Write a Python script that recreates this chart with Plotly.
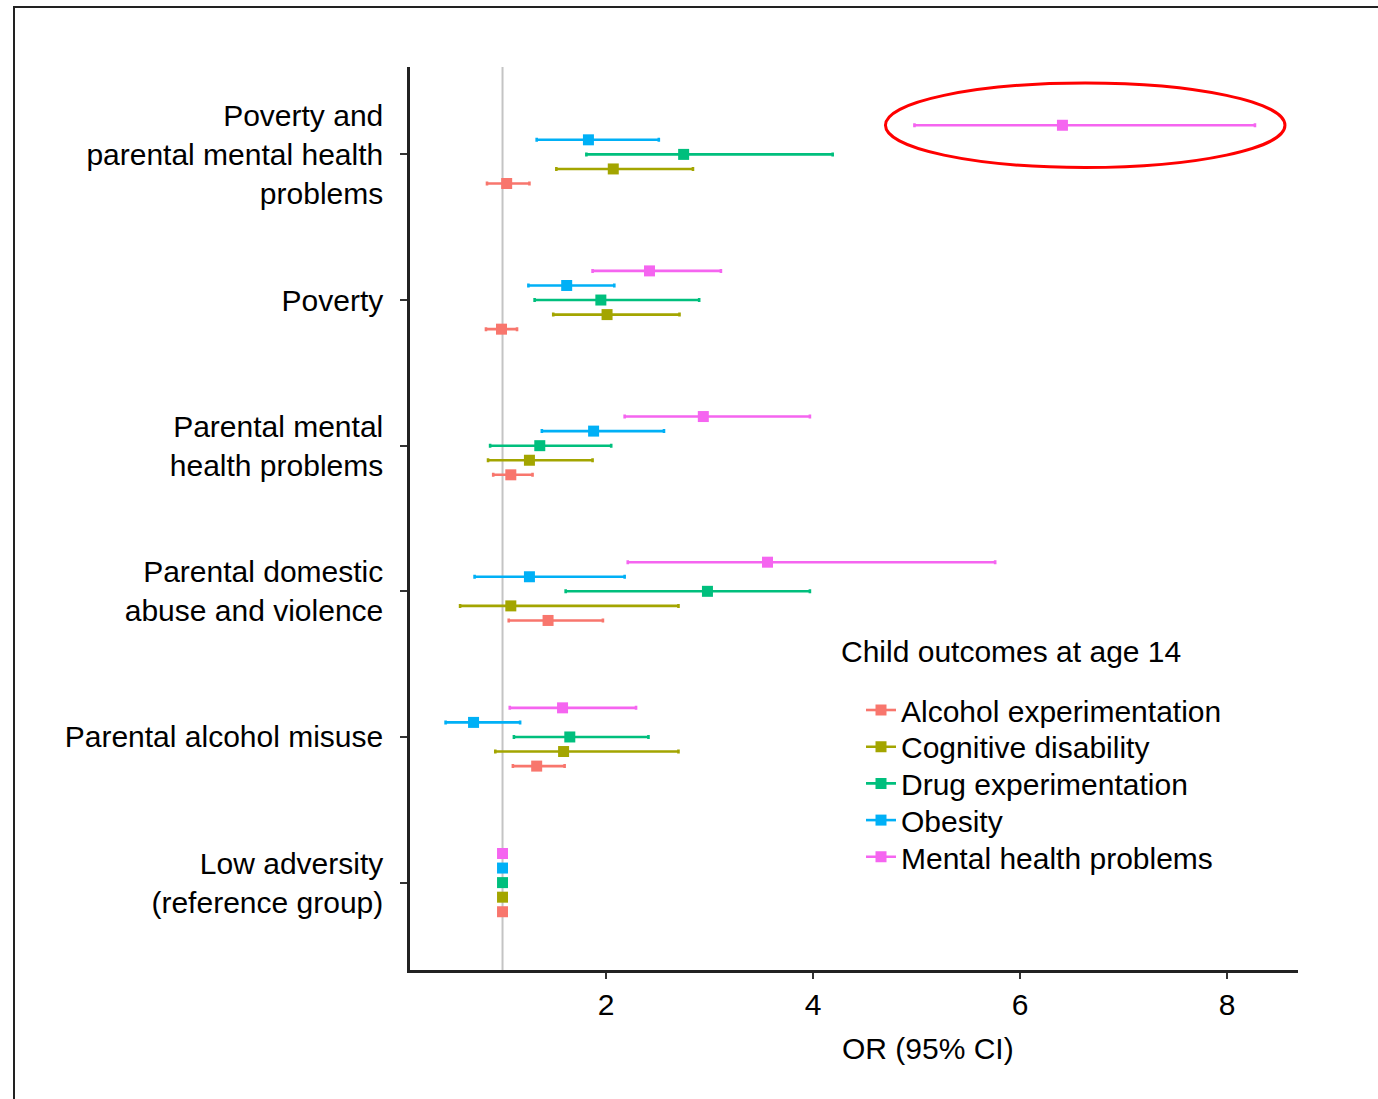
import plotly.graph_objects as go

# Exposure groups, listed from the bottom of the chart to the top
exposures = [
    "Low adversity<br>(reference group)",
    "Parental alcohol misuse",
    "Parental domestic<br>abuse and violence",
    "Parental mental<br>health problems",
    "Poverty",
    "Poverty and<br>parental mental health<br>problems",
]

outcomes = [
    "Alcohol experimentation",
    "Cognitive disability",
    "Drug experimentation",
    "Obesity",
    "Mental health problems",
]

# Odds ratios and 95% confidence limits, one value per exposure group
alcohol_or = [1.00, 1.33, 1.44, 1.08, 0.99, 1.04]
alcohol_lo = [1.00, 1.10, 1.06, 0.91, 0.84, 0.85]
alcohol_hi = [1.00, 1.60, 1.97, 1.29, 1.14, 1.26]

cognitive_or = [1.00, 1.59, 1.08, 1.26, 2.01, 2.07]
cognitive_lo = [1.00, 0.93, 0.59, 0.86, 1.49, 1.52]
cognitive_hi = [1.00, 2.70, 2.70, 1.87, 2.71, 2.84]

drug_or = [1.00, 1.65, 2.98, 1.36, 1.95, 2.75]
drug_lo = [1.00, 1.11, 1.61, 0.88, 1.31, 1.81]
drug_hi = [1.00, 2.41, 3.97, 2.05, 2.90, 4.19]

obesity_or = [1.00, 0.72, 1.26, 1.88, 1.62, 1.83]
obesity_lo = [1.00, 0.45, 0.73, 1.38, 1.25, 1.33]
obesity_hi = [1.00, 1.17, 2.18, 2.56, 2.08, 2.51]

mental_or = [1.00, 1.58, 3.56, 2.94, 2.42, 6.41]
mental_lo = [1.00, 1.07, 2.21, 2.18, 1.87, 4.98]
mental_hi = [1.00, 2.29, 5.76, 3.97, 3.11, 8.27]

x_ticks = [2, 4, 6, 8]

series = [
    (alcohol_or, alcohol_lo, alcohol_hi),
    (cognitive_or, cognitive_lo, cognitive_hi),
    (drug_or, drug_lo, drug_hi),
    (obesity_or, obesity_lo, obesity_hi),
    (mental_or, mental_lo, mental_hi),
]

colors = ["#F8766D", "#A3A500", "#00BF7D", "#00B0F6", "#F565F0"]
dodge = [-0.2, -0.1, 0.0, 0.1, 0.2]
FONT = "Liberation Sans, Arial, sans-serif"

# Plot area in pixels (used to place paper-referenced items)
L, R, T, B = 410, 1298, 67, 970
W, H = R - L, B - T


def px_x(p):
    return (p - L) / W


def px_y(p):
    return 1 - (p - T) / H


fig = go.Figure()

# Reference line at OR = 1
fig.add_shape(type="line", xref="x", yref="paper", x0=1, x1=1, y0=0, y1=1,
              line=dict(color="#c4c4c4", width=2), layer="below")

for name, (est, lo, hi), col, dy in zip(outcomes, series, colors, dodge):
    ys = [i + 1 + dy for i in range(len(exposures))]
    fig.add_trace(go.Scatter(
        x=est, y=ys, mode="markers", name=name, showlegend=False,
        marker=dict(symbol="square", size=11, color=col),
        error_x=dict(type="data", symmetric=False,
                     array=[h - e for h, e in zip(hi, est)],
                     arrayminus=[e - l for e, l in zip(est, lo)],
                     color=col, thickness=2.6, width=2),
        hoverinfo="skip",
    ))

# One single-entry legend per outcome, so the rows can be spaced freely
legend_layouts = {}
for k, (name, col) in enumerate(zip(outcomes, colors)):
    key = "legend" if k == 0 else f"legend{k + 1}"
    fig.add_trace(go.Scatter(
        x=[None], y=[None], mode="lines+markers", name=name,
        legend=key,
        line=dict(color=col, width=2.6),
        marker=dict(symbol="square", size=11, color=col),
    ))
    legend_layouts[key] = dict(
        x=px_x(861), y=px_y(710 + 36.7 * k), xanchor="left", yanchor="middle",
        font=dict(family=FONT, size=30, color="black"),
        bgcolor="rgba(0,0,0,0)", itemwidth=30,
    )

fig.add_annotation(text="Child outcomes at age 14", xref="paper", yref="paper",
                   x=px_x(839), y=px_y(651), xanchor="left", yanchor="middle",
                   showarrow=False,
                   font=dict(family=FONT, size=30, color="black"))

# Red ellipse highlighting the largest odds ratio
fig.add_shape(type="circle", xref="x", yref="y",
              x0=4.70, x1=8.56, y0=5.91, y1=6.49,
              line=dict(color="#ff0000", width=3))

# Outer frame of the figure
fig.add_shape(type="rect", xref="paper", yref="paper",
              x0=px_x(14), x1=1.2, y0=-0.2, y1=px_y(7),
              line=dict(color="#222222", width=2))

fig.add_annotation(text="OR (95% CI)", xref="paper", yref="paper",
                   x=px_x(928), y=px_y(1048),
                   showarrow=False, xanchor="center", yanchor="middle",
                   font=dict(family=FONT, size=30, color="black"))

fig.update_layout(
    width=1378, height=1099,
    margin=dict(l=L, r=1378 - R, t=T, b=1099 - B, pad=0),
    paper_bgcolor="white", plot_bgcolor="white",
    font=dict(family=FONT, size=30, color="black"),
    xaxis=dict(range=[0.106, 8.686], tickvals=x_ticks, ticks="outside",
               ticklen=6, tickwidth=2, tickcolor="#333333",
               showline=True, linecolor="#222222", linewidth=2.5,
               showgrid=False, zeroline=False, ticklabelstandoff=0,
               tickfont=dict(family=FONT, size=30, color="black")),
    yaxis=dict(range=[0.4, 6.6], tickvals=list(range(1, len(exposures) + 1)),
               ticktext=exposures, ticks="outside", ticklen=7, tickwidth=2,
               tickcolor="#333333", showline=True, linecolor="#222222",
               linewidth=2.5, showgrid=False, zeroline=False,
               ticklabelstandoff=11,
               tickfont=dict(family=FONT, size=30, color="black")),
    **legend_layouts,
)

fig.write_html("out.html")
